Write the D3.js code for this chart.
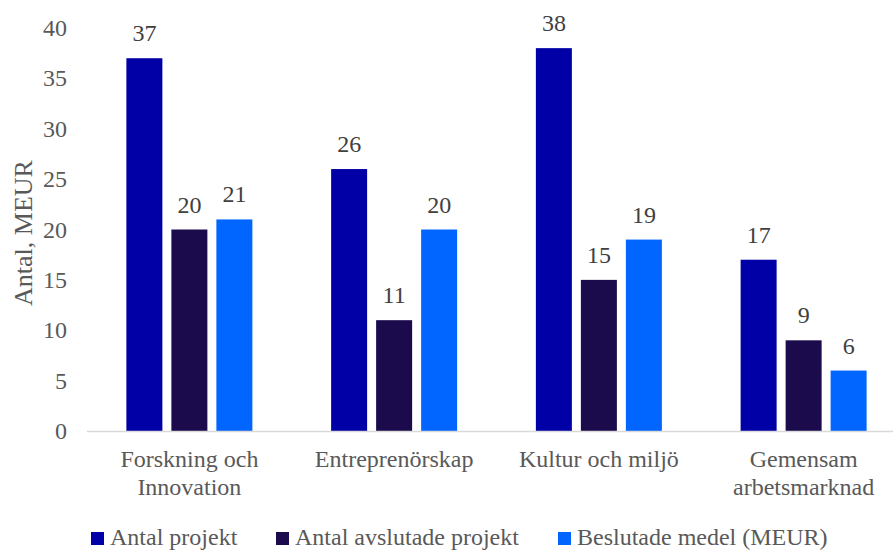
<!DOCTYPE html>
<html lang="sv">
<head>
<meta charset="UTF-8">
<title>Projekt per insatsområde</title>
<style>
  body { margin: 0; background: #fff; }
</style>
</head>
<body>
<script src="https://cdn.jsdelivr.net/npm/d3@7/dist/d3.min.js"></script>
<script>
const categories = [["Forskning och", "Innovation"], ["Entreprenörskap"], ["Kultur och miljö"], ["Gemensam", "arbetsmarknad"]];
const seriesNames = ["Antal projekt", "Antal avslutade projekt", "Beslutade medel (MEUR)"];
const antalProjekt = [37, 26, 38, 17];
const avslutade = [20, 11, 15, 9];
const beslutade = [21, 20, 19, 6];
const yTicks = [0, 5, 10, 15, 20, 25, 30, 35, 40];
const colors = ["#0000A6", "#1B0A4C", "#0066FF"];

const w = 894, h = 550;
const m = { left: 87, right: 906, top: 28, bottom: 431 };
const fs = '24px';

const svg = d3.select('body').append('svg')
  .attr('width', w).attr('height', h)
  .attr('font-family', "'Liberation Serif', 'Times New Roman', serif")
  .attr('fill', '#595959');

const series = [antalProjekt, avslutade, beslutade];
const catKeys = categories.map((c, i) => i);

const x0 = d3.scaleBand().domain(catKeys).range([m.left, m.right]);
const x1 = d3.scaleBand().domain([0, 1, 2])
  .range([0, 126]).paddingInner(0.2);
const y = d3.scaleLinear().domain([0, 40]).range([m.bottom, m.top]);

// y-axis labels
svg.append('g').selectAll('text')
  .data(yTicks).enter().append('text')
  .attr('x', 67).attr('y', d => y(d) + 8)
  .attr('text-anchor', 'end')
  .attr('font-size', fs)
  .text(d => d);

svg.append('text')
  .attr('transform', `translate(32,${233}) rotate(-90)`)
  .attr('text-anchor', 'middle')
  .attr('font-size', '26px')
  .text('Antal, MEUR');

// bars
const groups = svg.append('g').selectAll('g')
  .data(catKeys).enter().append('g')
  .attr('transform', d => `translate(${x0(d) + x0.bandwidth() / 2 - 63},0)`);

groups.selectAll('rect')
  .data(i => series.map((s, k) => ({ k, v: s[i] })))
  .enter().append('rect')
  .attr('x', d => x1(d.k))
  .attr('y', d => y(d.v))
  .attr('width', x1.bandwidth())
  .attr('height', d => y(0) - y(d.v))
  .attr('fill', d => colors[d.k]);

groups.selectAll('text')
  .data(i => series.map((s, k) => ({ k, v: s[i] })))
  .enter().append('text')
  .attr('x', d => x1(d.k) + x1.bandwidth() / 2)
  .attr('y', d => y(d.v) - 17)
  .attr('text-anchor', 'middle')
  .attr('font-size', fs)
  .attr('fill', '#404040')
  .text(d => d.v);

// x axis line
svg.append('line')
  .attr('x1', m.left).attr('x2', 893)
  .attr('y1', m.bottom + 0.5).attr('y2', m.bottom + 0.5)
  .attr('stroke', '#d9d9d9').attr('stroke-width', 1.5);

// category labels
const catText = svg.append('g').selectAll('text')
  .data(catKeys).enter().append('text')
  .attr('text-anchor', 'middle')
  .attr('font-size', fs);
catText.selectAll('tspan')
  .data(i => categories[i].map(t => ({ t, i })))
  .enter().append('tspan')
  .attr('x', d => x0(d.i) + x0.bandwidth() / 2)
  .attr('y', (d, j) => 467 + j * 28)
  .text(d => d.t);

// legend
const legendX = [91, 276, 558];
const legend = svg.append('g').selectAll('g')
  .data(seriesNames).enter().append('g')
  .attr('transform', (d, i) => `translate(${legendX[i]},532)`);
legend.append('rect')
  .attr('width', 13).attr('height', 13)
  .attr('fill', (d, i) => colors[i]);
legend.append('text')
  .attr('x', 19).attr('y', 13)
  .attr('font-size', fs)
  .text(d => d);
</script>
</body>
</html>
